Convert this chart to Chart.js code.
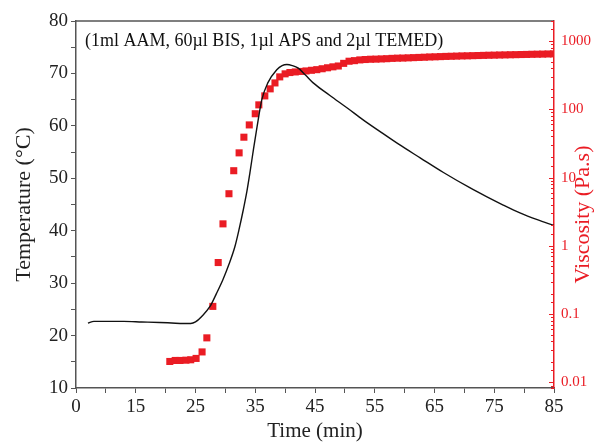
<!DOCTYPE html>
<html lang="en">
<head>
<meta charset="UTF-8" />
<title>Temperature and viscosity vs time</title>
<style>
  html,body{margin:0;padding:0;background:#fff;}
  #wrap{width:602px;height:444px;}
</style>
<script src="https://cdn.jsdelivr.net/npm/chart.js"></script>
</head>
<body>
<div id="wrap"><canvas id="chart" width="602" height="444"></canvas></div>
<script>
/* ==== data ==== */
// temperature curve, left axis
const tempTime = [7.0, 8.0, 10.0, 13.0, 16.0, 19.0, 21.0, 23.0, 24.2, 25.0, 26.0, 27.4, 28.5, 29.6, 30.6, 31.6,
  32.3, 33.0, 33.6, 34.1, 34.7, 35.3, 36.1, 37.1, 38.6, 39.5, 40.3, 41.2, 42.2, 43.4, 44.7, 47.5, 50.4, 53.0,
  55.9, 59.0, 62.6, 66.5, 70.9, 73.7, 76.5, 79.3, 82.2, 85.0];
const tempVal = [22.4, 22.7, 22.7, 22.7, 22.6, 22.5, 22.4, 22.3, 22.3, 22.6, 23.6, 25.5, 28.0, 30.7, 33.6, 37.0,
  40.3, 44.0, 47.5, 51.0, 55.5, 59.8, 65.0, 68.2, 70.7, 71.5, 71.7, 71.5, 71.0, 69.7, 68.2, 65.8, 63.4, 61.2,
  58.9, 56.5, 53.9, 51.1, 48.2, 46.5, 44.9, 43.4, 42.1, 41.0];

// viscosity points, right (log) axis
const viscTime = [20.7, 21.6, 22.4, 23.4, 24.2, 25.1, 26.1, 26.9, 27.9, 28.8, 29.6, 30.6, 31.4, 32.3, 33.1, 34.0,
  35.0, 35.6, 36.6, 37.5, 38.3, 39.1, 40.0, 40.8, 41.7, 42.6, 43.5, 44.4, 45.3, 46.2, 47.1, 48.0, 48.9, 49.8,
  50.7, 51.6, 52.5, 53.4, 54.3, 55.2, 56.1, 57.0, 57.9, 58.8, 59.7, 60.6, 61.5, 62.4, 63.3, 64.2, 65.1, 66.0,
  66.9, 67.8, 68.7, 69.6, 70.5, 71.4, 72.3, 73.2, 74.1, 75.0, 75.9, 76.8, 77.7, 78.6, 79.5, 80.4, 81.3, 82.2,
  83.1, 84.0, 84.9];
const viscVal = [0.0203, 0.021, 0.021, 0.0212, 0.0215, 0.0225, 0.028, 0.045, 0.13, 0.57, 2.1, 5.8, 12.6, 23, 39, 59,
  86, 116, 157, 199, 243, 298, 330, 345, 352, 358, 364, 372, 380, 392, 405, 418, 430, 470,
  505, 515, 528, 535, 540, 542, 546, 550, 556, 560, 562, 566, 570, 574, 578, 583, 586, 590,
  594, 597, 600, 604, 606, 609, 612, 615, 618, 620, 623, 625, 628, 630, 633, 635, 638, 640,
  642, 645, 647];

// tick labels
const xTickVals = [5, 15, 25, 35, 45, 55, 65, 75, 85];
const xTickText = ['0', '15', '25', '35', '45', '55', '65', '75', '85'];
const yTickVals = [10, 20, 30, 40, 50, 60, 70, 80];
const y2TickVals = [0.01, 0.1, 1, 10, 100, 1000];
const y2TickText = ['0.01', '0.1', '1', '10', '100', '1000'];

const note = '(1ml AAM, 60\u00b5l BIS, 1\u00b5l APS and 2\u00b5l TEMED)';

/* ==== styles ==== */
const RED = '#ea1c24';
const AXIS = '#555';
const FONT = '"Liberation Serif","DejaVu Serif",serif';

/* ==== extras: top frame, inward log ticks, note, right title ==== */
const extras = {
  id: 'extras',
  afterDraw(chart){
    const c = chart.ctx, a = chart.chartArea, y2 = chart.scales.y2;
    c.save();
    // top frame
    c.strokeStyle = AXIS; c.lineWidth = 1.5;
    c.beginPath(); c.moveTo(a.left, a.top); c.lineTo(a.right, a.top); c.stroke();
    // right axis ticks pointing inward
    c.strokeStyle = RED; c.lineWidth = 1;
    y2.ticks.forEach(t => {
      const py = Math.round(y2.getPixelForValue(t.value)) + 0.5;
      const major = y2TickVals.some(v => Math.abs(v - t.value) / v < 1e-6);
      c.beginPath(); c.moveTo(a.right, py); c.lineTo(a.right - (major ? 5 : 3), py); c.stroke();
    });
    // note
    c.fillStyle = '#111'; c.font = '18px ' + FONT;
    c.textBaseline = 'middle'; c.textAlign = 'left';
    c.fillText(note, a.left + 9, 41);
    // right axis title
    c.translate(583, (a.top + a.bottom) / 2 + 10);
    c.rotate(-Math.PI / 2);
    c.fillStyle = RED; c.font = '22px ' + FONT; c.textAlign = 'center';
    c.fillText('Viscosity (Pa.s)', 0, 0);
    c.restore();
  }
};

/* ==== chart ==== */
new Chart(document.getElementById('chart'), {
  type: 'scatter',
  data: {
    datasets: [
      {
        label: 'Temperature',
        data: tempTime.map((t, i) => ({x: t, y: tempVal[i]})),
        yAxisID: 'y',
        showLine: true,
        borderColor: '#111',
        borderWidth: 1.4,
        pointRadius: 0,
        cubicInterpolationMode: 'monotone',
        order: 1
      },
      {
        label: 'Viscosity',
        data: viscTime.map((t, i) => ({x: t, y: viscVal[i]})),
        yAxisID: 'y2',
        showLine: false,
        pointStyle: 'rect',
        pointRadius: 5,
        backgroundColor: RED,
        borderColor: RED,
        borderWidth: 0,
        order: 2
      }
    ]
  },
  options: {
    responsive: false,
    animation: false,
    devicePixelRatio: 1,
    layout: {padding: {top: 21, right: 0, left: 0, bottom: 0}},
    plugins: {legend: {display: false}, tooltip: {enabled: false}},
    scales: {
      x: {
        type: 'linear', min: 5, max: 85,
        afterFit(s){ s.height = 56; },
        border: {color: AXIS, width: 1.5},
        grid: {drawOnChartArea: false, color: AXIS, tickLength: 5},
        ticks: {
          stepSize: 5, autoSkip: false, maxRotation: 0, padding: 3,
          color: '#222', font: {family: FONT, size: 19},
          callback: v => { const i = xTickVals.indexOf(v); return i < 0 ? '' : xTickText[i]; }
        },
        title: {display: true, text: 'Time (min)', color: '#222', font: {family: FONT, size: 21}, padding: {top: 0, bottom: 0}}
      },
      y: {
        type: 'linear', position: 'left', min: 10, max: 80,
        afterFit(s){ s.width = 76; },
        border: {color: AXIS, width: 1.5},
        grid: {drawOnChartArea: false, color: AXIS, tickLength: 5},
        ticks: {
          stepSize: 5, autoSkip: false, padding: 3,
          color: '#222', font: {family: FONT, size: 19},
          callback: v => yTickVals.includes(v) ? String(v) : ''
        },
        title: {display: true, text: 'Temperature (\u00b0C)', color: '#222', font: {family: FONT, size: 22}, padding: {top: 11, bottom: 0}}
      },
      y2: {
        type: 'logarithmic', position: 'right', min: 0.0083, max: 1960,
        afterFit(s){ s.width = 48; },
        border: {color: RED, width: 1.5},
        grid: {drawOnChartArea: false, drawTicks: false},
        ticks: {
          autoSkip: false, padding: 7,
          color: RED, font: {family: FONT, size: 15},
          callback: v => {
            const i = y2TickVals.findIndex(t => Math.abs(t - v) / t < 1e-6);
            return i < 0 ? '' : y2TickText[i];
          }
        }
      }
    }
  },
  plugins: [extras]
});
</script>
</body>
</html>
